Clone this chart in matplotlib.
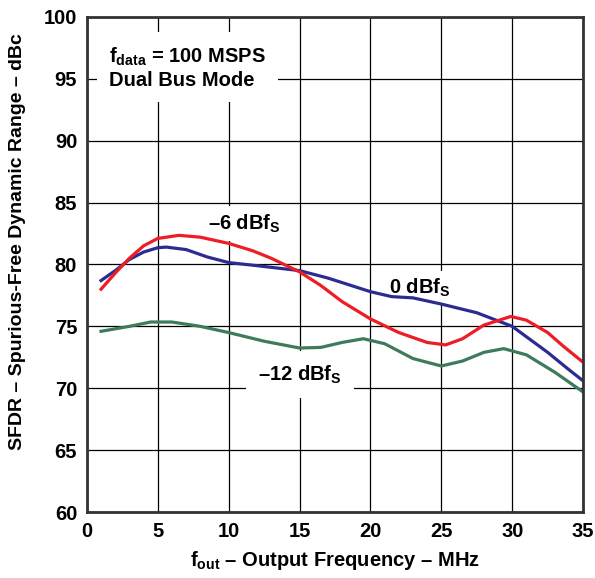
import matplotlib
matplotlib.use("Agg")
import matplotlib.pyplot as plt

# 0 dBFs
freq_0 = [1, 2, 3, 4, 5, 5.6, 7, 8.5, 10, 12, 15, 17, 20, 21.5, 23, 25, 27.5, 30, 32.5, 34, 35]
sfdr_0 = [78.7, 79.5, 80.4, 81.0, 81.35, 81.4, 81.2, 80.6, 80.15, 79.9, 79.5, 78.9, 77.8, 77.4, 77.3, 76.8, 76.1, 75.0, 72.9, 71.5, 70.6]

# -6 dBFs
freq_6 = [1, 2, 3, 4, 5, 6.5, 8, 10, 11.7, 13, 15, 16.5, 18, 20, 22, 24, 25.3, 26.5, 28, 29.9, 31, 32.5, 33.6, 35]
sfdr_6 = [78.0, 79.3, 80.5, 81.5, 82.1, 82.35, 82.2, 81.7, 81.1, 80.5, 79.4, 78.3, 77.0, 75.6, 74.5, 73.7, 73.5, 74.0, 75.1, 75.8, 75.5, 74.5, 73.4, 72.1]

# -12 dBFs
freq_12 = [1, 3, 4.5, 6, 8, 10, 12.5, 15, 16.5, 18, 19.5, 21, 23, 25, 26.5, 28, 29.4, 31, 33, 35]
sfdr_12 = [74.6, 75.0, 75.35, 75.35, 75.0, 74.5, 73.8, 73.25, 73.3, 73.7, 74.0, 73.6, 72.4, 71.8, 72.2, 72.9, 73.2, 72.7, 71.3, 69.7]

x_ticks = [0, 5, 10, 15, 20, 25, 30, 35]
y_ticks = [60, 65, 70, 75, 80, 85, 90, 95, 100]

plt.rcParams["font.family"] = "Liberation Sans"
plt.rcParams["font.weight"] = "bold"
plt.rcParams["axes.labelweight"] = "bold"
plt.rcParams["mathtext.fontset"] = "custom"
plt.rcParams["mathtext.rm"] = "Liberation Sans:bold"
plt.rcParams["mathtext.default"] = "rm"

fs = 14.5

fig = plt.figure(figsize=(5.95, 5.78), dpi=100)
ax = fig.add_axes([0.146, 0.114, 0.834, 0.857])

ax.plot(freq_0, sfdr_0, color="#2B2C92", lw=2.3, zorder=5)
ax.plot(freq_6, sfdr_6, color="#EE1C25", lw=2.3, zorder=5)
ax.plot(freq_12, sfdr_12, color="#3E7B5C", lw=2.3, zorder=5)

ax.set_xlim(0, 35)
ax.set_ylim(60, 100)
ax.set_xticks(x_ticks)
ax.set_yticks(y_ticks)
ax.grid(True, color="black", lw=0.9)
ax.set_axisbelow(True)
ax.tick_params(length=0, labelsize=fs, pad=7)
for s in ax.spines.values():
    s.set_linewidth(2)
    s.set_color("#333333")
    s.set_zorder(6)

box = dict(facecolor="white", edgecolor="none", boxstyle="square,pad=0.3")
ax.text(1.55, 95.9, "f$_{data}$ = 100 MSPS\nDual Bus Mode", fontsize=fs,
        va="center", ha="left", linespacing=1.2,
        bbox=dict(facecolor="white", edgecolor="none", boxstyle="square,pad=0.6"),
        zorder=4)
ax.text(11.1, 83.3, "–6 dBf$_S$", fontsize=fs, ha="center", va="center", bbox=box, zorder=4)
ax.text(23.5, 78.1, "0 dBf$_S$", fontsize=fs, ha="center", va="center", bbox=box, zorder=4)
ax.text(15.0, 71.1, "–12 dBf$_S$", fontsize=fs, ha="center", va="center",
        bbox=dict(facecolor="white", edgecolor="none", boxstyle="square,pad=0.6"), zorder=4)

ax.set_xlabel("f$_{out}$ – Output Frequency – MHz", fontsize=fs, labelpad=6)
ax.set_ylabel("SFDR – Spurious-Free Dynamic Range – dBc", fontsize=14)
ax.yaxis.set_label_coords(-0.122, 0.547)

fig.savefig("out.png", dpi=100)
